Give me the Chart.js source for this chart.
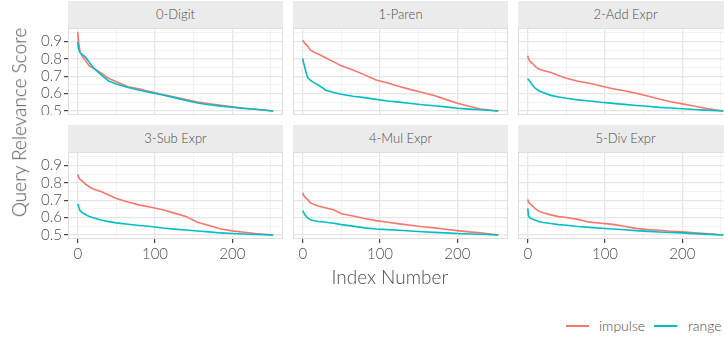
<!DOCTYPE html>
<html>
<head>
<meta charset="utf-8">
<script src="https://cdn.jsdelivr.net/npm/chart.js@4.4.0/dist/chart.umd.min.js"></script>
<style>
  body { margin: 0; width: 724px; height: 343px; overflow: hidden; position: relative; background: #fff; font-family: Lato, sans-serif; }
  canvas { position: absolute; }
  .strip { position: absolute; height: 27px; line-height: 27px; background: #ebebeb; color: #4d4d4d; font-size: 13px; font-weight: 300; text-align: center; }
  .title { position: absolute; color: #4d4d4d; font-size: 19px; font-weight: 300; white-space: nowrap; }
  .key { position: absolute; height: 2px; width: 23px; top: 325px; }
  .keytxt { position: absolute; top: 317px; font-size: 14px; font-weight: 300; color: #4d4d4d; }
</style>
</head>
<body>
<script>
const idx = [0, 1, 3, 6, 10, 15, 20, 30, 40, 50, 65, 80, 95, 110, 125, 140, 155, 170, 185, 200, 215, 230, 253];

const panelNames = ['0-Digit', '1-Paren', '2-Add Expr', '3-Sub Expr', '4-Mul Expr', '5-Div Expr'];

const digitImpulse = [0.954, 0.9, 0.84, 0.815, 0.79, 0.76, 0.748, 0.72, 0.688, 0.668, 0.64, 0.627, 0.61, 0.595, 0.58, 0.566, 0.552, 0.542, 0.533, 0.524, 0.516, 0.51, 0.5];
const digitRange   = [0.9, 0.86, 0.835, 0.825, 0.81, 0.78, 0.75, 0.71, 0.673, 0.656, 0.635, 0.62, 0.606, 0.592, 0.577, 0.56, 0.546, 0.536, 0.528, 0.522, 0.515, 0.51, 0.5];
const parenImpulse = [0.908, 0.9, 0.888, 0.875, 0.85, 0.838, 0.828, 0.805, 0.783, 0.76, 0.736, 0.708, 0.678, 0.661, 0.641, 0.623, 0.607, 0.589, 0.567, 0.545, 0.527, 0.512, 0.5];
const parenRange   = [0.803, 0.78, 0.745, 0.695, 0.676, 0.662, 0.65, 0.62, 0.607, 0.596, 0.585, 0.577, 0.567, 0.558, 0.551, 0.543, 0.536, 0.53, 0.524, 0.516, 0.511, 0.507, 0.5];
const addImpulse   = [0.818, 0.8, 0.785, 0.775, 0.755, 0.74, 0.733, 0.722, 0.705, 0.689, 0.671, 0.66, 0.644, 0.628, 0.617, 0.602, 0.586, 0.569, 0.553, 0.541, 0.529, 0.516, 0.5];
const addRange     = [0.686, 0.68, 0.67, 0.65, 0.63, 0.615, 0.606, 0.59, 0.581, 0.573, 0.564, 0.558, 0.55, 0.544, 0.538, 0.532, 0.527, 0.521, 0.517, 0.513, 0.509, 0.505, 0.5];
const subImpulse   = [0.848, 0.835, 0.82, 0.81, 0.793, 0.778, 0.765, 0.75, 0.73, 0.71, 0.69, 0.672, 0.66, 0.645, 0.626, 0.606, 0.574, 0.555, 0.535, 0.524, 0.516, 0.508, 0.5];
const subRange     = [0.679, 0.665, 0.64, 0.628, 0.618, 0.607, 0.6, 0.586, 0.577, 0.57, 0.562, 0.555, 0.549, 0.54, 0.534, 0.529, 0.523, 0.518, 0.512, 0.509, 0.506, 0.503, 0.5];
const mulImpulse   = [0.743, 0.73, 0.717, 0.705, 0.685, 0.675, 0.667, 0.656, 0.645, 0.622, 0.609, 0.595, 0.583, 0.573, 0.564, 0.556, 0.548, 0.541, 0.533, 0.525, 0.518, 0.513, 0.5];
const mulRange     = [0.64, 0.632, 0.615, 0.6, 0.588, 0.582, 0.578, 0.573, 0.568, 0.56, 0.551, 0.541, 0.535, 0.531, 0.527, 0.523, 0.519, 0.515, 0.512, 0.509, 0.506, 0.504, 0.5];
const divImpulse   = [0.704, 0.69, 0.68, 0.668, 0.65, 0.636, 0.628, 0.616, 0.606, 0.601, 0.59, 0.574, 0.568, 0.561, 0.55, 0.538, 0.531, 0.527, 0.522, 0.518, 0.513, 0.508, 0.5];
const divRange     = [0.653, 0.61, 0.598, 0.592, 0.585, 0.576, 0.572, 0.566, 0.56, 0.556, 0.549, 0.544, 0.539, 0.535, 0.53, 0.525, 0.521, 0.517, 0.514, 0.512, 0.508, 0.505, 0.5];

const impulseSets = [digitImpulse, parenImpulse, addImpulse, subImpulse, mulImpulse, divImpulse];
const rangeSets = [digitRange, parenRange, addRange, subRange, mulRange, divRange];

const xTicks = [0, 100, 200];
const xMinor = [50, 150, 250];
const yTicks = [0.5, 0.6, 0.7, 0.8, 0.9];
const yMinor = [0.55, 0.65, 0.75, 0.85, 0.95];

const impulseColor = '#F8766D';
const rangeColor = '#00BFC4';

// panel geometry
const colLeft = [68, 293, 518];
const panelW = 215;
const rowTop = [28, 152];
const panelH = 87;
const stripH = 27;
const yAxisW = 40;
const xAxisH = 30;

// draws the light panel border
const frame = {
    id: 'frame',
    afterDraw(c) {
        const a = c.chartArea, g = c.ctx;
        g.save();
        g.strokeStyle = '#dedede';
        g.lineWidth = 1;
        g.strokeRect(a.left + 0.5, a.top + 0.5, a.width - 1, a.height - 1);
        g.restore();
    }
};

function isMajor(list, v) {
    return list.some(t => Math.abs(t - v) < 1e-9);
}

function gridOpts(major) {
    return {
        color: ctx => (ctx.tick && isMajor(major, ctx.tick.value)) ? '#e6e6e6' : '#eeeeee',
        lineWidth: ctx => (ctx.tick && isMajor(major, ctx.tick.value)) ? 1.3 : 0.7,
        tickColor: ctx => (ctx.tick && isMajor(major, ctx.tick.value)) ? '#333333' : 'rgba(0,0,0,0)',
        tickWidth: 1.1,
        tickLength: 4
    };
}

panelNames.forEach((name, i) => {
    const row = Math.floor(i / 3), col = i % 3;
    const showY = col === 0, showX = row === 1;

    const strip = document.createElement('div');
    strip.className = 'strip';
    strip.style.left = colLeft[col] + 'px';
    strip.style.top = (rowTop[row] - stripH) + 'px';
    strip.style.width = panelW + 'px';
    strip.textContent = name;
    document.body.appendChild(strip);

    const cv = document.createElement('canvas');
    const w = panelW + (showY ? yAxisW : 0);
    const h = panelH + (showX ? xAxisH : 0);
    cv.width = w; cv.height = h;
    cv.style.left = (colLeft[col] - (showY ? yAxisW : 0)) + 'px';
    cv.style.top = rowTop[row] + 'px';
    document.body.appendChild(cv);

    new Chart(cv, {
        type: 'line',
        data: {
            datasets: [{
                label: 'impulse',
                data: idx.map((x, k) => ({ x: x, y: impulseSets[i][k] })),
                borderColor: impulseColor,
                borderWidth: 1.6,
                pointRadius: 0,
                tension: 0,
                order: 1
            }, {
                label: 'range',
                data: idx.map((x, k) => ({ x: x, y: rangeSets[i][k] })),
                borderColor: rangeColor,
                borderWidth: 1.6,
                pointRadius: 0,
                tension: 0,
                order: 0
            }]
        },
        options: {
            responsive: false,
            animation: false,
            devicePixelRatio: 1,
            layout: { padding: 0 },
            plugins: { legend: { display: false }, tooltip: { enabled: false } },
            scales: {
                x: {
                    type: 'linear',
                    min: -12.6,
                    max: 265.6,
                    afterBuildTicks: s => { s.ticks = xTicks.concat(xMinor).sort((a, b) => a - b).map(v => ({ value: v })); },
                    afterFit: s => { s.height = showX ? xAxisH : 0; s.paddingLeft = 0; s.paddingRight = 0; },
                    border: { display: false },
                    grid: Object.assign(gridOpts(xTicks), { drawTicks: showX }),
                    ticks: {
                        display: showX,
                        autoSkip: false,
                        maxRotation: 0,
                        padding: 2,
                        color: '#4d4d4d',
                        font: { family: 'Lato', size: 15, weight: 300 },
                        callback: v => isMajor(xTicks, v) ? String(v) : ''
                    }
                },
                y: {
                    type: 'linear',
                    min: 0.477,
                    max: 0.978,
                    afterBuildTicks: s => { s.ticks = yTicks.concat(yMinor).sort((a, b) => a - b).map(v => ({ value: v })); },
                    afterFit: s => { s.width = showY ? yAxisW : 0; s.paddingTop = 0; s.paddingBottom = 0; },
                    border: { display: false },
                    grid: Object.assign(gridOpts(yTicks), { drawTicks: showY }),
                    ticks: {
                        display: showY,
                        autoSkip: false,
                        padding: 2,
                        color: '#4d4d4d',
                        font: { family: 'Lato', size: 15, weight: 300 },
                        callback: v => isMajor(yTicks, v) ? v.toFixed(1) : ''
                    }
                }
            }
        },
        plugins: [frame]
    });
});

// axis titles
const yTitle = document.createElement('div');
yTitle.className = 'title';
yTitle.textContent = 'Query Relevance Score';
document.body.appendChild(yTitle);
yTitle.style.left = (18 - yTitle.offsetWidth / 2) + 'px';
yTitle.style.top = (122 - yTitle.offsetHeight / 2) + 'px';
yTitle.style.transform = 'rotate(-90deg)';

const xTitle = document.createElement('div');
xTitle.className = 'title';
xTitle.textContent = 'Index Number';
document.body.appendChild(xTitle);
xTitle.style.left = (390 - xTitle.offsetWidth / 2) + 'px';
xTitle.style.top = (276 - xTitle.offsetHeight / 2) + 'px';

// legend
[['impulse', impulseColor, 566, 599], ['range', rangeColor, 654, 688]].forEach(([lab, c, kx, tx]) => {
    const k = document.createElement('div');
    k.className = 'key';
    k.style.left = kx + 'px';
    k.style.background = c;
    document.body.appendChild(k);
    const t = document.createElement('div');
    t.className = 'keytxt';
    t.style.left = tx + 'px';
    t.textContent = lab;
    document.body.appendChild(t);
});
</script>
</body>
</html>
